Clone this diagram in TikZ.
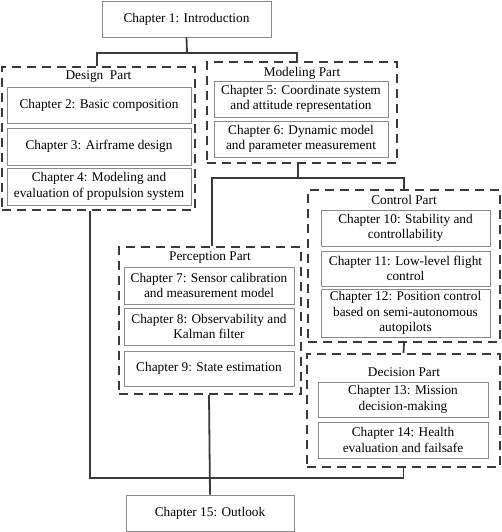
\documentclass[tikz,border=0pt]{standalone}
\usepackage{fontspec}
\setmainfont{Liberation Serif}
\definecolor{frm}{HTML}{3A3A3A}
\definecolor{bx}{HTML}{8A8A8A}
\begin{document}
\begin{tikzpicture}[x=1pt,y=-1pt,
  chbox/.style={draw=bx,line width=0.9pt,align=center,inner sep=0pt,
    font=\fontsize{13.3}{15.5}\selectfont,text=black},
  partframe/.style={draw=frm,line width=2.3pt,dash pattern=on 9pt off 6pt,inner sep=0pt},
  partlbl/.style={inner sep=0pt,font=\fontsize{13.3}{15.5}\selectfont},
  conn/.style={draw=frm,line width=1.8pt}]
\useasboundingbox (0,0) rectangle (502,532);
% frames
\node[partframe,minimum width=193pt,minimum height=143pt] (design) at (98.5,138.5) {};
\node[partframe,minimum width=190pt,minimum height=101pt] (modeling) at (302,112.5) {};
\node[partframe,minimum width=192pt,minimum height=152pt] (control) at (404,266) {};
\node[partframe,minimum width=193pt,minimum height=113pt] (decision) at (403.5,410.5) {};
\node[partframe,minimum width=182pt,minimum height=147pt] (perception) at (210,320.5) {};
% labels
\node[partlbl] (designlbl) at (98.5,77) {Design\ \ Part};
\node[partlbl] (modelinglbl) at (302,73) {Modeling Part};
\node[partlbl] (controllbl) at (404,200) {Control Part};
\node[partlbl] (decisionlbl) at (404,372) {Decision Part};
\node[partlbl] (perceptionlbl) at (210,258) {Perception Part};
% chapter boxes
\node[chbox,minimum width=169pt,minimum height=36pt] (ch1) at (186.5,19) {Chapter 1: Introduction};
\node[chbox,minimum width=184pt,minimum height=36pt] (ch2) at (99,105) {Chapter 2: Basic composition};
\node[chbox,minimum width=184pt,minimum height=37pt] (ch3) at (99,146.5) {Chapter 3: Airframe design};
\node[chbox,minimum width=184pt,minimum height=37pt] (ch4) at (99,186.5) {Chapter 4: Modeling and\\evaluation of propulsion system};
\node[chbox,minimum width=174pt,minimum height=36pt] (ch5) at (301,99) {Chapter 5: Coordinate system\\and attitude representation};
\node[chbox,minimum width=174pt,minimum height=36pt] (ch6) at (301,139) {Chapter 6: Dynamic model\\and parameter measurement};
\node[chbox,minimum width=170pt,minimum height=37pt] (ch7) at (209,285.5) {Chapter 7: Sensor calibration\\and measurement model};
\node[chbox,minimum width=170pt,minimum height=37pt] (ch8) at (209,326.5) {Chapter 8: Observability and\\Kalman filter};
\node[chbox,minimum width=170pt,minimum height=35pt] (ch9) at (209,368.5) {Chapter 9: State estimation};
\node[chbox,minimum width=169pt,minimum height=36pt] (ch10) at (405.5,228) {Chapter 10: Stability and\\controllability};
\node[chbox,minimum width=169pt,minimum height=35pt] (ch11) at (405.5,268.5) {Chapter 11: Low-level flight\\control};
\node[chbox,minimum width=169pt,minimum height=48pt] (ch12) at (405.5,313) {Chapter 12: Position control\\based on semi-autonomous\\autopilots};
\node[chbox,minimum width=170pt,minimum height=35pt] (ch13) at (403,399.5) {Chapter 13: Mission\\decision-making};
\node[chbox,minimum width=170pt,minimum height=36pt] (ch14) at (403,440) {Chapter 14: Health\\evaluation and failsafe};
\node[chbox,minimum width=168pt,minimum height=36pt] (ch15) at (210,513) {Chapter 15: Outlook};
% connectors
\coordinate (j1) at (187,53);
\coordinate (j2) at (298,178);
\coordinate (j3) at (209,478);
\draw[conn] (ch1.south) -- (j1);
\draw[conn] ([xshift=-1.5pt]design.north) |- (j1) -| ([xshift=-5pt]modeling.north);
\draw[conn] ([xshift=-4pt]modeling.south) -- (j2);
\draw[conn] ([xshift=2pt]perception.north) |- (j2) -| (control.north);
\draw[conn] (control.south) -- (decision.north);
\draw[conn] ([xshift=-8.5pt]design.south) |- (j3) -| (decision.south);
\draw[conn] ([xshift=-1pt]perception.south) -- (ch15.north);
\end{tikzpicture}
\end{document}
